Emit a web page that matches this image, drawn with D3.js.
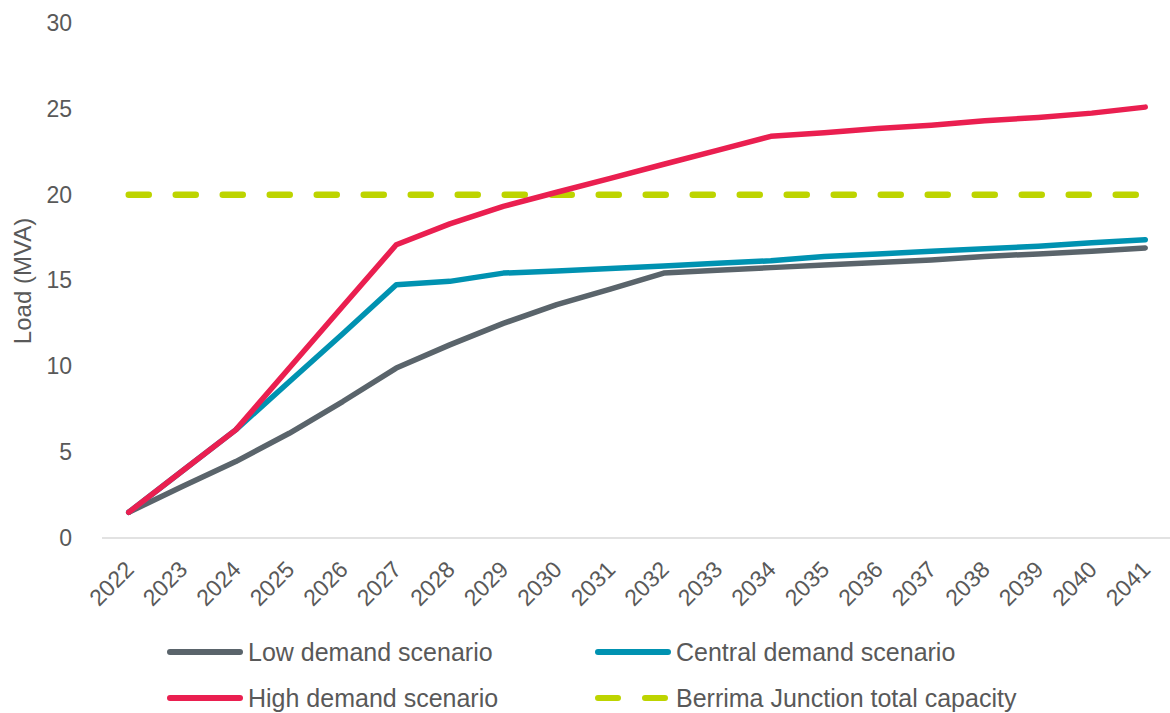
<!DOCTYPE html>
<html>
<head>
    <meta charset="utf-8">
    <title>Load forecast</title>
    <script src="https://d3js.org/d3.v7.min.js"></script>
    <style>
        body, html {
            margin: 0;
            padding: 0;
            background: #fff;
        }
        svg {
            display: block;
            font-family: "Liberation Sans", Arial, sans-serif;
        }
        .tick text, .axis-title, .legend text {
            fill: #595959;
        }
    </style>
</head>
<body>
    <svg></svg>
    <script>
        // Data
        const years = ["2022", "2023", "2024", "2025", "2026", "2027", "2028", "2029", "2030", "2031",
                       "2032", "2033", "2034", "2035", "2036", "2037", "2038", "2039", "2040", "2041"];
        const lowDemand = [1.5, 3.0, 4.45, 6.1, 7.95, 9.9, 11.25, 12.5, 13.6, 14.5,
                           15.43, 15.6, 15.75, 15.9, 16.05, 16.2, 16.4, 16.55, 16.7, 16.9];
        const centralDemand = [1.5, 3.9, 6.3, 9.1, 11.9, 14.75, 14.95, 15.43, 15.55, 15.7,
                               15.85, 16.0, 16.15, 16.4, 16.55, 16.7, 16.85, 17.0, 17.2, 17.38];
        const highDemand = [1.5, 3.9, 6.3, 9.9, 13.5, 17.08, 18.3, 19.32, 20.14, 20.95,
                            21.77, 22.58, 23.4, 23.6, 23.85, 24.05, 24.3, 24.5, 24.75, 25.1];
        const capacity = years.map(() => 20);
        const yTicks = [0, 5, 10, 15, 20, 25, 30];

        const series = [
            { name: "Low demand scenario", values: lowDemand, color: "#5a646b", dashed: false },
            { name: "Central demand scenario", values: centralDemand, color: "#0092b1", dashed: false },
            { name: "High demand scenario", values: highDemand, color: "#ea1f50", dashed: false },
            { name: "Berrima Junction total capacity", values: capacity, color: "#bdd400", dashed: true }
        ];

        const width = 1170;
        const height = 713;

        const svg = d3.select("svg")
            .attr("width", width)
            .attr("height", height);

        const x = d3.scalePoint()
            .domain(years)
            .range([102, 1172])
            .padding(0.5);

        const y = d3.scaleLinear()
            .domain([0, 30])
            .range([538, 23]);

        // x axis
        const xAxis = svg.append("g")
            .attr("transform", "translate(0,538)")
            .call(d3.axisBottom(x).tickSize(0));
        xAxis.select(".domain")
            .attr("stroke", "#d9d9d9")
            .attr("stroke-width", 1.5)
            .attr("d", "M102,0H1170");
        xAxis.selectAll(".tick text")
            .attr("x", 0)
            .attr("y", 0)
            .attr("dy", 0)
            .attr("text-anchor", "end")
            .attr("transform", "translate(6,33) rotate(-45)")
            .style("font-size", "23px");

        // y axis
        const yAxis = svg.append("g")
            .attr("transform", "translate(72,0)")
            .call(d3.axisLeft(y).tickValues(yTicks).tickSize(0).tickPadding(0));
        yAxis.select(".domain").remove();
        yAxis.selectAll(".tick text")
            .style("font-size", "23px");

        svg.append("text")
            .attr("class", "axis-title")
            .attr("transform", "translate(31,281) rotate(-90)")
            .attr("text-anchor", "middle")
            .style("font-size", "24px")
            .text("Load (MVA)");

        // lines
        const line = d3.line()
            .x((d, i) => x(years[i]))
            .y(d => y(d));

        // capacity drawn first, then low, central, high on top
        const drawOrder = [series[3], series[0], series[1], series[2]];
        svg.append("g")
            .selectAll("path")
            .data(drawOrder)
            .enter().append("path")
            .attr("d", d => line(d.values))
            .attr("fill", "none")
            .attr("stroke", d => d.color)
            .attr("stroke-width", d => d.dashed ? 6.5 : 5.5)
            .attr("stroke-linejoin", "round")
            .attr("stroke-linecap", "round")
            .attr("stroke-dasharray", d => d.dashed ? "20 27" : null);

        // legend
        const legendPos = [
            { x: 167, y: 652 },
            { x: 595, y: 652 },
            { x: 167, y: 698 },
            { x: 595, y: 698 }
        ];
        const legend = svg.append("g")
            .attr("class", "legend")
            .selectAll("g")
            .data(series)
            .enter().append("g")
            .attr("transform", (d, i) => `translate(${legendPos[i].x},${legendPos[i].y})`);

        legend.append("line")
            .attr("x1", 3)
            .attr("x2", 73)
            .attr("stroke", d => d.color)
            .attr("stroke-width", 6)
            .attr("stroke-linecap", "round")
            .attr("stroke-dasharray", d => d.dashed ? "20 27" : null);

        legend.append("text")
            .attr("x", 81)
            .attr("dy", "0.35em")
            .style("font-size", "25px")
            .text(d => d.name);
    </script>
</body>
</html>
